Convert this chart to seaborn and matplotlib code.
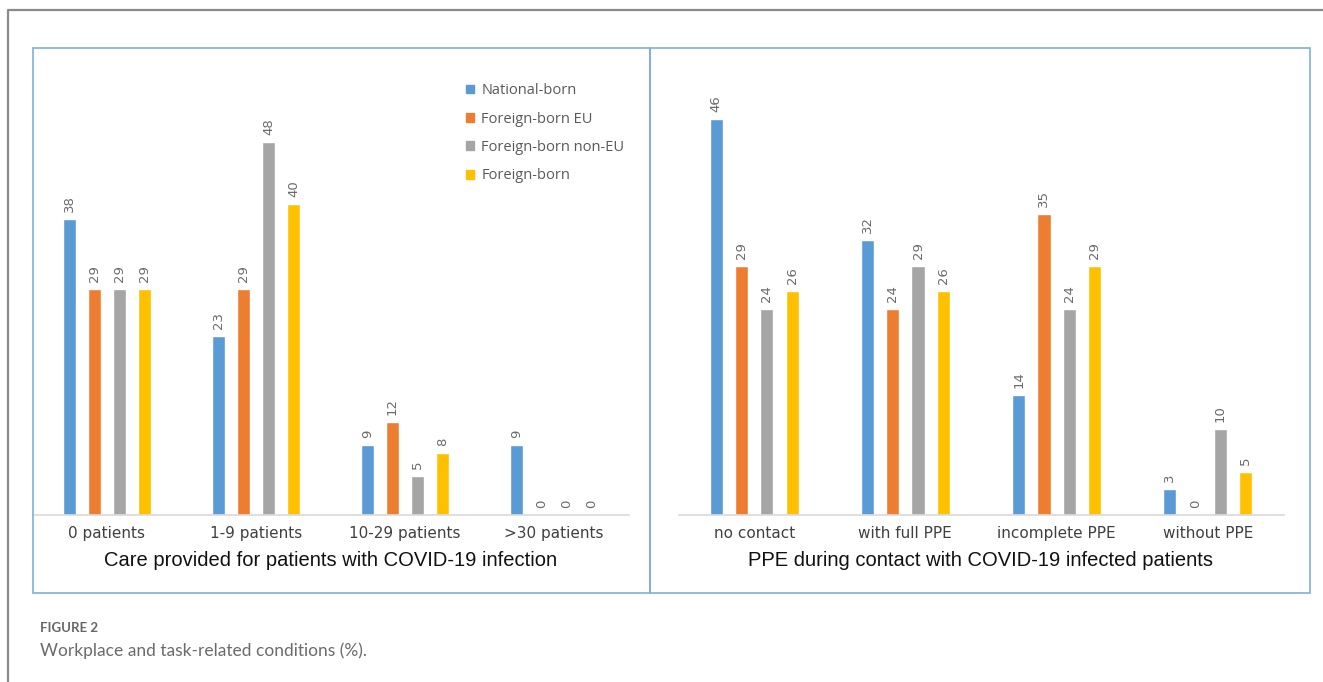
import matplotlib
matplotlib.use("Agg")
import matplotlib.pyplot as plt
from matplotlib.patches import Rectangle
from matplotlib.lines import Line2D
import pandas as pd
import seaborn as sns

# ---- data (%) ----
groups = ["National-born", "Foreign-born EU", "Foreign-born non-EU", "Foreign-born"]
colors = ["#5B9BD5", "#ED7D31", "#A5A5A5", "#FFC000"]

care_categories = ["0 patients", "1-9 patients", "10-29 patients", ">30 patients"]
care_national = [38, 23, 9, 9]
care_eu = [29, 29, 12, 0]
care_non_eu = [29, 48, 5, 0]
care_foreign = [29, 40, 8, 0]

ppe_categories = ["no contact", "with full PPE", "incomplete PPE", "without PPE"]
ppe_national = [46, 32, 14, 3]
ppe_eu = [29, 24, 35, 0]
ppe_non_eu = [24, 29, 24, 10]
ppe_foreign = [26, 26, 29, 5]


def long_frame(categories, series):
    rows = []
    for g, vals in zip(groups, series):
        for c, v in zip(categories, vals):
            rows.append({"category": c, "group": g, "value": v})
    return pd.DataFrame(rows)


care_df = long_frame(care_categories, [care_national, care_eu, care_non_eu, care_foreign])
ppe_df = long_frame(ppe_categories, [ppe_national, ppe_eu, ppe_non_eu, ppe_foreign])

sns.set_theme(style="white")
plt.rcParams["font.family"] = ["DejaVu Sans"]

W, H = 1323, 682
fig = plt.figure(figsize=(W / 100, H / 100), dpi=100)


def px_rect(x0, y0, x1, y1):
    """Convert pixel box (top-left origin) into figure fraction [l, b, w, h]."""
    return [x0 / W, 1 - y1 / H, (x1 - x0) / W, (y1 - y0) / H]


ax1 = fig.add_axes(px_rect(32.5, 60, 628.5, 515))
ax2 = fig.add_axes(px_rect(678.5, 60, 1283.5, 515))

panels = [
    (ax1, care_df, care_categories, 455 / 7.78, "Care provided for patients with COVID-19 infection"),
    (ax2, ppe_df, ppe_categories, 455 / 8.6, "PPE during contact with COVID-19 infected patients"),
]

for ax, df, cats, ymax, title in panels:
    sns.barplot(data=df, x="category", y="value", hue="group", order=cats,
                hue_order=groups, palette=colors, width=0.67, gap=0.48,
                errorbar=None, saturation=1, ax=ax, legend=False)
    ax.set_ylim(0, ymax)
    ax.set_xlim(-0.5, 3.5)
    for cont in ax.containers:
        ax.bar_label(cont, fmt="%d", rotation=90, padding=5, fontsize=9.5,
                     color="#6a6a6a")
    for s in ["top", "right", "left"]:
        ax.spines[s].set_visible(False)
    ax.spines["bottom"].set_color("#D9D9D9")
    ax.spines["bottom"].set_linewidth(1.2)
    ax.set_yticks([])
    ax.set_ylabel("")
    ax.tick_params(axis="x", length=0, pad=8, labelsize=11, labelcolor="#404040")
    ax.set_xlabel(title, fontsize=14.5, family="Liberation Sans", color="#111111",
                  labelpad=7)
    ax.set_facecolor("none")

# legend in the upper right of the left panel
handles = [Rectangle((0, 0), 1, 1, color=c) for c in colors]
fig.legend(handles, groups, loc="upper left", bbox_to_anchor=(453 / W, 1 - 70 / H),
           frameon=False, handlelength=0.55, handleheight=0.55, handletextpad=0.5,
           labelspacing=0.92, labelcolor="#595959",
           prop={"family": "Open Sans", "size": 10.5})

# panel frames
for box in [(33, 48, 650, 593), (650, 48, 1310, 593)]:
    fig.add_artist(Rectangle((box[0] / W, 1 - box[3] / H), (box[2] - box[0]) / W,
                             (box[3] - box[1]) / H, transform=fig.transFigure,
                             fill=False, edgecolor="#7FAEDC", linewidth=1.2))

# outer figure border (left and top)
fig.add_artist(Line2D([8 / W, 8 / W, 1.0], [0.0, 1 - 10 / H, 1 - 10 / H],
                      transform=fig.transFigure, color="#8a8a8a", linewidth=1.6))

# caption
fig.text(40 / W, 1 - 628 / H, "FIGURE 2", fontsize=9.5, color="#666666",
         family="Lato", fontweight="bold", va="center")
fig.text(40 / W, 1 - 651 / H, "Workplace and task-related conditions (%).",
         fontsize=12.5, color="#6b6b6b", family="Lato", va="center")

fig.savefig("out.png", dpi=100, facecolor="white")
